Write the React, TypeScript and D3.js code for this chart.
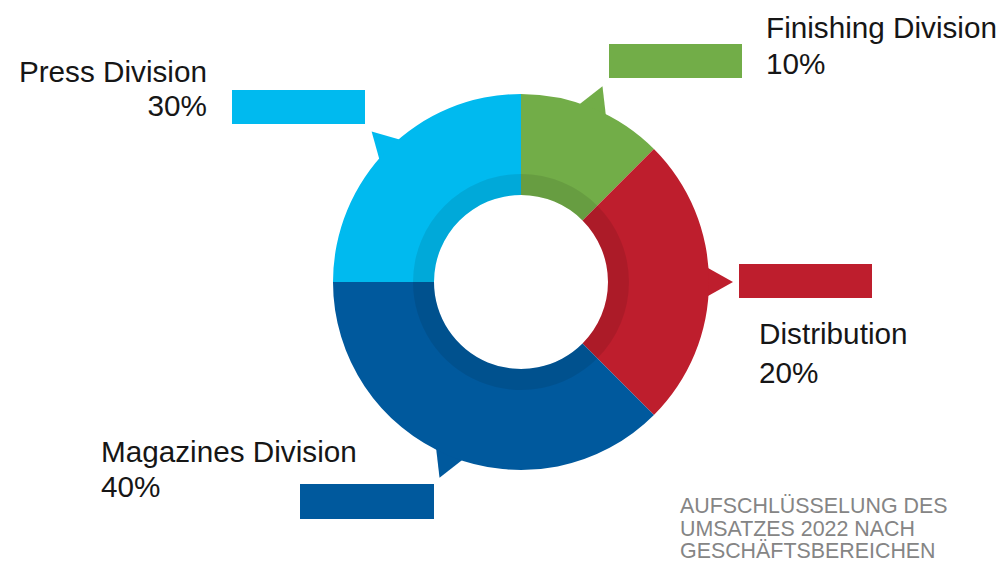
import React from "react";
import * as d3 from "d3";

// ---- data ----
const divisions = ["Finishing Division", "Distribution", "Magazines Division", "Press Division"];
const percentLabels = ["10%", "20%", "40%", "30%"];
// slice shares as drawn in the picture (clockwise from 12 o'clock)
const sliceShares = [12.5, 25, 37.5, 25];
const colors = ["#72ad48", "#be1e2d", "#00599d", "#00baef"];
const footnoteLines = ["AUFSCHLÜSSELUNG DES", "UMSATZES 2022 NACH", "GESCHÄFTSBEREICHEN"];

// ---- layout (not data) ----
const W = 1004;
const H = 563;
const CX = 521;
const CY = 282;
const R_OUT = 188;
const R_RING = 108;
const R_IN = 87;
const TIP_R = 212;
// pointer direction (degrees clockwise from top) per slice
const pointerAngles = [22.6, 90, 202.6, 315.2];
const pointerHalfWidth = 4.8;
// label boxes
const boxes = [
  { x: 609, y: 44, w: 133, h: 34 },
  { x: 739, y: 264, w: 133, h: 34 },
  { x: 300, y: 484, w: 134, h: 35 },
  { x: 232, y: 90, w: 133, h: 34 },
];
// text positions
const labelPos = [
  { x: 766, y1: 37.5, y2: 73.5, anchor: "start" },
  { x: 759, y1: 344, y2: 383, anchor: "start" },
  { x: 101, y1: 462, y2: 497, anchor: "start" },
  { x: 207, y1: 81.5, y2: 116, anchor: "end" },
];

const FONT = "'Liberation Sans', Arial, Helvetica, sans-serif";

function polar(angleDeg: number, r: number): [number, number] {
  const a = (angleDeg * Math.PI) / 180;
  return [CX + r * Math.sin(a), CY - r * Math.cos(a)];
}

export default function App() {
  const pie = d3.pie<number>().sort(null).value((d) => d);
  const arcs = pie(sliceShares);
  const outerArc = d3.arc<d3.PieArcDatum<number>>().innerRadius(R_IN).outerRadius(R_OUT);
  const ringArc = d3.arc<d3.PieArcDatum<number>>().innerRadius(R_IN).outerRadius(R_RING);

  return (
    <svg
      width={W}
      height={H}
      style={{ position: "absolute", left: 0, top: 0, background: "#fff" }}
      xmlns="http://www.w3.org/2000/svg"
    >
      {/* pointers */}
      {pointerAngles.map((ang, i) => {
        const p1 = polar(ang - pointerHalfWidth, R_OUT - 3);
        const p2 = polar(ang + pointerHalfWidth, R_OUT - 3);
        const tip = polar(ang, TIP_R);
        const pts = [p1, tip, p2].map((p) => p.join(",")).join(" ");
        return <polygon key={"ptr" + i} points={pts} fill={colors[i]} />;
      })}
      <g transform={`translate(${CX},${CY})`}>
        {arcs.map((a, i) => (
          <path key={"s" + i} d={outerArc(a) || ""} fill={colors[i]} />
        ))}
        {arcs.map((a, i) => (
          <path key={"r" + i} d={ringArc(a) || ""} fill="#000" fillOpacity={0.09} />
        ))}
      </g>
      {/* label boxes */}
      {boxes.map((b, i) => (
        <rect key={"b" + i} x={b.x} y={b.y} width={b.w} height={b.h} fill={colors[i]} />
      ))}
      {/* labels */}
      {divisions.map((name, i) => {
        const lp = labelPos[i];
        return (
          <g key={"l" + i} fontFamily={FONT} fontSize={29.7} fill="#161616" textAnchor={lp.anchor}>
            <text x={lp.x} y={lp.y1}>{name}</text>
            <text x={lp.x} y={lp.y2}>{percentLabels[i]}</text>
          </g>
        );
      })}
      {/* footnote */}
      <text fontFamily={FONT} fontSize={21.4} fill="#858585" x={680} y={513}>
        {footnoteLines.map((t, i) => (
          <tspan key={"f" + i} x={680} y={513 + i * 22.5}>
            {t}
          </tspan>
        ))}
      </text>
    </svg>
  );
}
